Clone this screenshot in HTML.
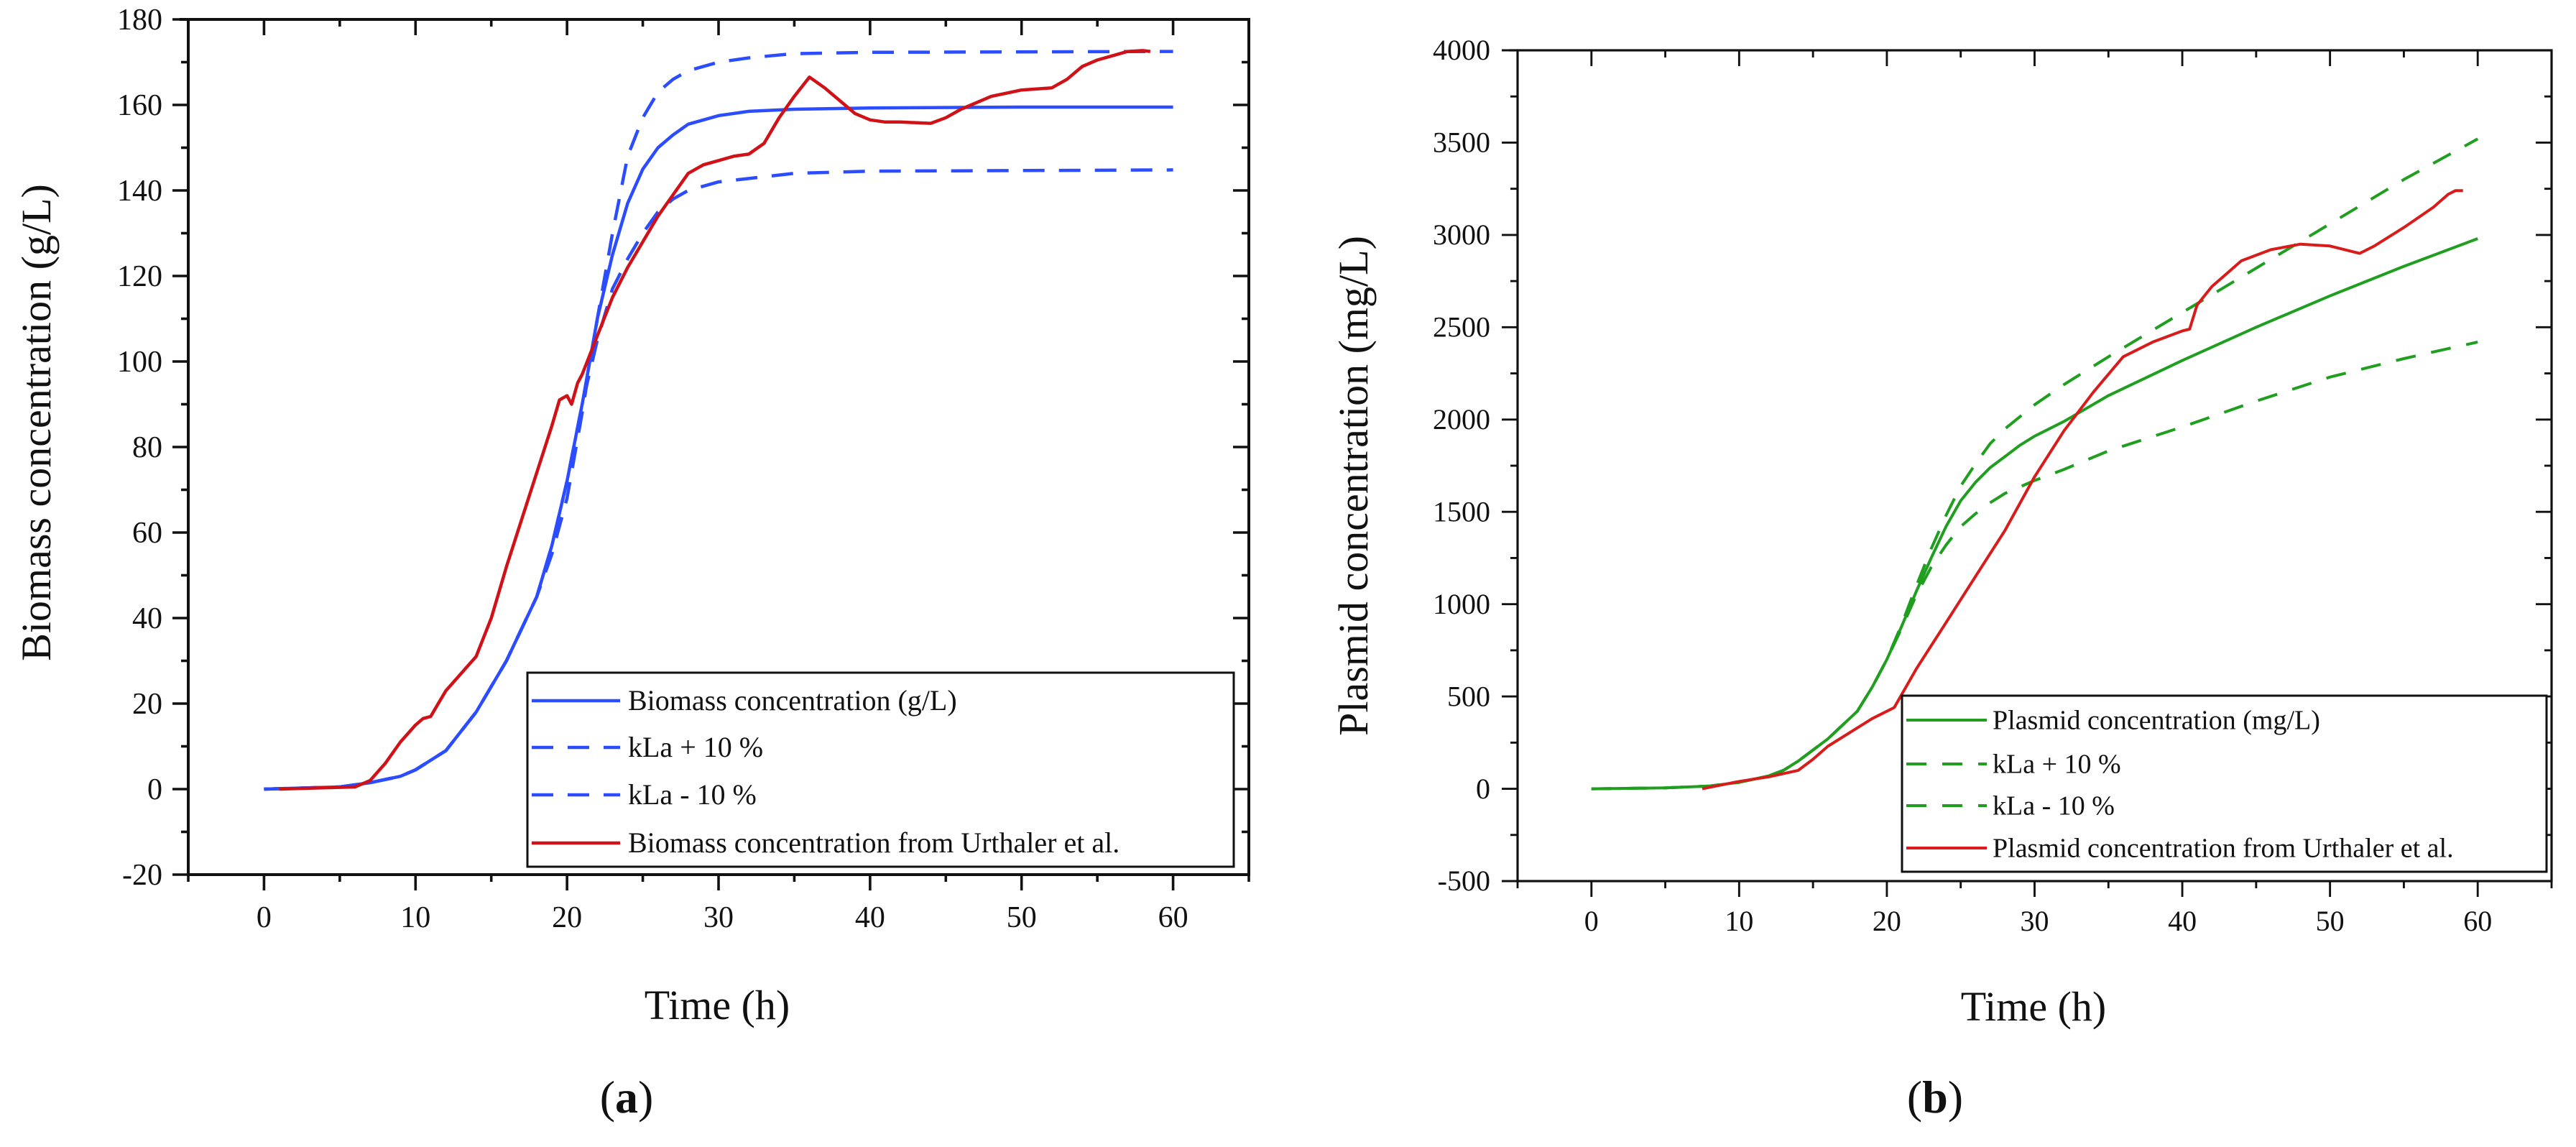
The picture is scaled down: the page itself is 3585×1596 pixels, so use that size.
<!DOCTYPE html>
<html><head><meta charset="utf-8"><style>
html,body{margin:0;padding:0;background:#fff;}
svg{display:block;font-family:"Liberation Serif",serif;}
</style></head><body>
<svg id="fig" width="3585" height="1596" viewBox="0 0 3585 1596" xmlns="http://www.w3.org/2000/svg">
<rect width="3585" height="1596" fill="#fff"/>
<g id="chartA"></g>
<g id="chartB"></g>
</svg>
<script>
// ---- Chart (a) data ----
const aXTicks = [0,10,20,30,40,50,60];
const aYTicks = [-20,0,20,40,60,80,100,120,140,160,180];
const aBaseT = [0,5,7,9,10,12,14,16,18,19,20,21,22,23,24,25,26,27,28,30,32,35,40,50,60];
const aBaseV = [0,0.5,1.5,3,4.5,9,18,30,45,57,72,90,110,125,137,145,150,153,155.5,157.5,158.5,159,159.3,159.5,159.5];
const aPlusT = [0,5,7,9,10,12,14,16,18,19,20,21,22,23,24,25,26,27,28,30,32,35,40,60];
const aPlusV = [0,0.5,1.5,3,4.5,9,18,30,45,55,68,88,110,130,148,157,163,166,168,170,171,172,172.3,172.5];
const aMinusT = [0,5,7,9,10,12,14,16,18,19,20,21,22,23,24,25,26,27,28,30,35,40,60];
const aMinusV = [0,0.5,1.5,3,4.5,9,18,30,45,57,72,90,105,117,124,130,135,138,140,142,144,144.5,144.8];
const aExpT = [1,3,6,7,8,9,10,10.5,11,11.5,12,13,14,15,16,17,18,19,19.5,20,20.3,20.7,21,22,23,24,25,26,27,28,29,30,31,32,33,34,35,36,37,38,39,40,41,42,44,45,46,48,50,52,53,54,55,56,57,58,58.5];
const aExpV = [0,0.2,0.5,2,6,11,15,16.5,17,20,23,27,31,40,52,63,74,85,91,92,90,95,97,106,115,122,128,134,139,144,146,147,148,148.5,151,157,162,166.5,164,161,158,156.5,156,156,155.7,157,159,162,163.5,164,166,169,170.5,171.5,172.5,172.7,172.5];
const aLegend = ["Biomass concentration (g/L)","kLa + 10 %","kLa - 10 %","Biomass concentration from Urthaler et al."];

// ---- Chart (b) data ----
const bXTicks = [0,10,20,30,40,50,60];
const bYTicks = [-500,0,500,1000,1500,2000,2500,3000,3500,4000];
const bBaseT = [0,5,8,10,12,13,14,16,18,19,20,21,22,23,24,25,26,27,28,29,30,32,35,40,45,50,55,60];
const bBaseV = [0,5,15,35,70,100,150,270,420,550,700,880,1070,1250,1420,1560,1660,1740,1800,1860,1910,1990,2130,2320,2500,2670,2830,2980];
const bPlusT = [0,5,8,10,12,13,14,16,18,19,20,21,22,23,24,25,26,27,28,30,32,35,40,45,50,55,60];
const bPlusV = [0,5,15,35,70,100,150,270,420,550,700,890,1100,1300,1480,1640,1760,1870,1950,2080,2190,2340,2580,2820,3060,3300,3520];
const bMinusT = [0,5,8,10,12,13,14,16,18,19,20,21,22,23,24,25,26,27,28,30,32,35,40,45,50,55,60];
const bMinusV = [0,5,15,35,70,100,150,270,420,550,700,870,1050,1200,1320,1420,1490,1550,1600,1670,1730,1830,1960,2100,2230,2330,2420];
const bExpT = [7.5,10,12,14,15,16,18,19,20,20.5,22,24,26,28,30,32,34,36,38,40,40.5,41,42,44,46,48,50,52,53,55,57,58,58.5,59];
const bExpV = [0,40,65,100,160,230,330,380,420,440,650,900,1150,1400,1690,1940,2150,2340,2420,2480,2490,2620,2720,2860,2920,2950,2940,2900,2940,3040,3150,3220,3240,3240];
const bLegend = ["Plasmid concentration (mg/L)","kLa + 10 %","kLa - 10 %","Plasmid concentration from Urthaler et al."];

const NS="http://www.w3.org/2000/svg";
function mk(parent,tag,attrs,txt){const e=document.createElementNS(NS,tag);for(const k in attrs)e.setAttribute(k,attrs[k]);if(txt!==undefined)e.textContent=txt;parent.appendChild(e);return e;}

function drawChart(g,cfg){
  const sx=v=>cfg.x0+(v-cfg.xmin)*(cfg.x1-cfg.x0)/(cfg.xmax-cfg.xmin);
  const sy=v=>cfg.y1-(v-cfg.ymin)*(cfg.y1-cfg.y0)/(cfg.ymax-cfg.ymin);
  const L=cfg.x0,R=cfg.x1,T=cfg.y0,B=cfg.y1,lw=cfg.axisW;
  // frame
  const frame=mk(g,'rect',{x:L,y:T,width:R-L,height:B-T,fill:'none',stroke:'#111','stroke-width':lw});
  
  
  mk(g,'line',{x1:L-12,y1:T,x2:L,y2:T,stroke:'#111','stroke-width':lw});
  // x ticks
  for(let v=cfg.xmin;v<=cfg.xmax;v+=cfg.xMinor){
    const major=cfg.xTicks.includes(v);const x=sx(v);const len=major?22:10;
    mk(g,'line',{x1:x,y1:B,x2:x,y2:B+len,stroke:'#111','stroke-width':lw*0.9});
    mk(g,'line',{x1:x,y1:T,x2:x,y2:T+len,stroke:'#111','stroke-width':lw*0.9});
  }
  cfg.xTicks.forEach(v=>{
    const t=mk(g,'text',{x:sx(v),y:cfg.xLabY,'font-size':cfg.fs,'text-anchor':'middle',fill:'#111'},String(v));
    
    
  });
  // y ticks
  for(let v=cfg.ymin;v<=cfg.ymax+1e-9;v+=cfg.yMinor){
    const major=cfg.yTicks.includes(v);const y=sy(v);const len=major?22:10;
    mk(g,'line',{x1:L-len,y1:y,x2:L,y2:y,stroke:'#111','stroke-width':lw*0.9});
    mk(g,'line',{x1:R,y1:y,x2:R-len,y2:y,stroke:'#111','stroke-width':lw*0.9});
  }
  cfg.yTicks.forEach(v=>{
    const t=mk(g,'text',{x:cfg.yLabX,y:sy(v)+cfg.fs*0.33,'font-size':cfg.fs,'text-anchor':'end',fill:'#111'},String(v));
    
    
  });
  // series
  const series=[
    {t:cfg.plusT,v:cfg.plusV,c:cfg.col,d:cfg.dash,n:'series-kla-plus-10'},
    {t:cfg.minusT,v:cfg.minusV,c:cfg.col,d:cfg.dash,n:'series-kla-minus-10'},
    {t:cfg.baseT,v:cfg.baseV,c:cfg.col,d:null,n:'series-model'},
    {t:cfg.expT,v:cfg.expV,c:cfg.red,d:null,n:'series-urthaler'}];
  series.forEach(s=>{
    const pts=s.t.map((t,i)=>sx(t).toFixed(1)+','+sy(s.v[i]).toFixed(1)).join(' ');
    const a={points:pts,fill:'none',stroke:s.c,'stroke-width':cfg.lineW,'stroke-linejoin':'round'};
    if(s.d)a['stroke-dasharray']=s.d;
    const p=mk(g,'polyline',a);
    
    
  });
  // legend
  const lg=mk(g,'g',{});
  
  
  mk(lg,'rect',{x:cfg.lgX0,y:cfg.lgY0,width:cfg.lgX1-cfg.lgX0,height:cfg.lgY1-cfg.lgY0,fill:'#fff',stroke:'#111','stroke-width':3});
  const cols=[cfg.col,cfg.col,cfg.col,cfg.red],dashes=[null,cfg.dash,cfg.dash,null];
  cfg.legend.forEach((txt,i)=>{
    const y=cfg.lgRows[i];
    const a={x1:cfg.lgS0,y1:y,x2:cfg.lgS1,y2:y,stroke:cols[i],'stroke-width':cfg.lineW};
    if(dashes[i])a['stroke-dasharray']=dashes[i];
    mk(lg,'line',a);
    const t=mk(lg,'text',{x:cfg.lgT,y:y+cfg.lfs*0.33,'font-size':cfg.lfs,fill:'#111'},txt);
    
    
  });
  // titles
  const yt=mk(g,'text',{x:0,y:0,'font-size':cfg.tfs,'text-anchor':'middle',fill:'#111',transform:`translate(${cfg.ytX},${cfg.ytY}) rotate(-90)`},cfg.yTitle);
  
  
  const xt=mk(g,'text',{x:cfg.xtX,y:cfg.xtY,'font-size':cfg.tfs,'text-anchor':'middle',fill:'#111'},'Time (h)');
  
  
  const pl=mk(g,'text',{x:cfg.plX,y:cfg.plY,'font-size':64,'text-anchor':'middle',fill:'#111'});
  
  
  mk(pl,'tspan',{},'(');mk(pl,'tspan',{'font-weight':'bold'},cfg.panel);mk(pl,'tspan',{},')');
}

drawChart(document.getElementById('chartA'),{
  x0:262,x1:1738,y0:27,y1:1217,xmin:-5,xmax:65,ymin:-20,ymax:180,
  xTicks:aXTicks,yTicks:aYTicks,xMinor:5,yMinor:10,axisW:4,fs:42,xLabY:1290,yLabX:226,
  baseT:aBaseT,baseV:aBaseV,plusT:aPlusT,plusV:aPlusV,minusT:aMinusT,minusV:aMinusV,expT:aExpT,expV:aExpV,
  col:'#2b4cff',red:'#d01218',dash:'30 20',lineW:4.5,
  lgX0:734,lgX1:1717,lgY0:936,lgY1:1206,lgRows:[975,1040,1106,1173],lgS0:740,lgS1:863,lgT:874,lfs:40,legend:aLegend,
  yTitle:'Biomass concentration (g/L)',ytX:70,ytY:588,tfs:58,xtX:998,xtY:1418,plX:872,plY:1548,panel:'a'
});
drawChart(document.getElementById('chartB'),{
  x0:2112,x1:3551,y0:70,y1:1226,xmin:-5,xmax:65,ymin:-500,ymax:4000,
  xTicks:bXTicks,yTicks:bYTicks,xMinor:5,yMinor:250,axisW:3.2,fs:40,xLabY:1295,yLabX:2074,
  baseT:bBaseT,baseV:bBaseV,plusT:bPlusT,plusV:bPlusV,minusT:bMinusT,minusV:bMinusV,expT:bExpT,expV:bExpV,
  col:'#1f9e1f',red:'#d81c1c',dash:'28 22',lineW:4,
  lgX0:2647,lgX1:3544,lgY0:968,lgY1:1213,lgRows:[1002,1063,1121,1180],lgS0:2653,lgS1:2765,lgT:2773,lfs:38,legend:bLegend,
  yTitle:'Plasmid concentration (mg/L)',ytX:1903,ytY:676,tfs:58,xtX:2830,xtY:1420,plX:2693,plY:1548,panel:'b'
});
</script>
</body></html>
